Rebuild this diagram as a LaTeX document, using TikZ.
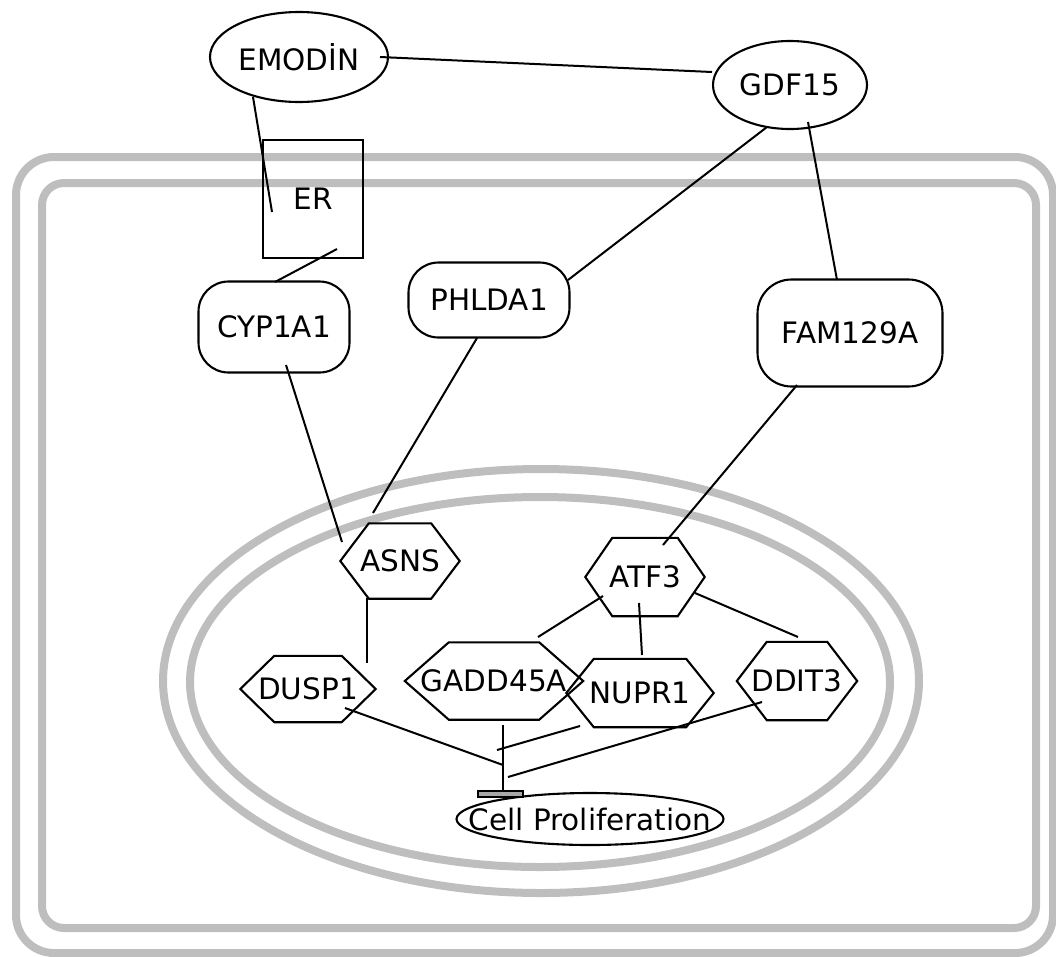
\documentclass[tikz,border=0pt]{standalone}
\usepackage{fontspec}
\setmainfont{DejaVu Sans}
\usetikzlibrary{calc,shapes.geometric}
\definecolor{memgray}{HTML}{BEBEBE}
\definecolor{bargray}{HTML}{A8A8A8}
\tikzset{
  membrane/.style={draw=memgray, line width=8pt},
  txt/.style={font=\fontsize{29.5}{34}\selectfont, inner sep=0pt},
  ovalnode/.style={txt, ellipse, draw, line width=2.1pt},
  roundbox/.style={txt, rectangle, draw, line width=2.1pt, rounded corners=30pt},
  squarebox/.style={txt, rectangle, draw, line width=1.8pt},
  hexlabel/.style={txt, rectangle},
  hexline/.style={draw, line width=2.1pt, line join=miter},
  link/.style={draw, line width=2pt},
  barnode/.style={rectangle, draw, fill=bargray, line width=1.3pt, inner sep=0pt, minimum width=45pt, minimum height=6pt},
}
\newcommand{\hexnode}[7]{%
  \node[hexlabel, minimum width=#4pt, minimum height=#5pt] (#1) at (#2,#3) {#7};
  \draw[hexline] ([xshift=#6pt]#1.north west) -- ([xshift=-#6pt]#1.north east) -- (#1.east)
    -- ([xshift=-#6pt]#1.south east) -- ([xshift=#6pt]#1.south west) -- (#1.west) -- cycle;}
\begin{document}
\begin{tikzpicture}[x=1pt, y=-1pt]
\useasboundingbox (0,0) rectangle (1056,956);
% membranes
\draw[membrane, rounded corners=38pt] (16,157) rectangle (1053,953);
\draw[membrane, rounded corners=22pt] (42,183) rectangle (1036,928);
\draw[membrane] (541,681) ellipse [x radius=378, y radius=212];
\draw[membrane] (540,682) ellipse [x radius=350, y radius=185];
% nodes
\node[ovalnode, minimum width=178pt, minimum height=90pt] (emodin) at (299,57) {EMODİN};
\node[ovalnode, minimum width=154pt, minimum height=88pt] (gdf) at (790,85) {GDF15};
\node[squarebox, minimum width=100pt, minimum height=118pt] (er) at (313,199) {ER};
\node[roundbox, minimum width=151pt, minimum height=91pt] (cyp) at (274,327) {CYP1A1};
\node[roundbox, minimum width=161pt, minimum height=75pt] (phl) at (489,300) {PHLDA1};
\node[roundbox, rounded corners=34pt, minimum width=185pt, minimum height=107pt] (fam) at (850,333) {FAM129A};
\hexnode{asns}{400}{561}{119}{75}{28.5}{ASNS}
\hexnode{atf}{645}{577}{119}{78}{27}{ATF3}
\hexnode{dusp}{308}{689}{135}{66}{34}{DUSP1}
\hexnode{gadd}{494}{681}{178}{77}{44}{GADD45A}
\hexnode{nupr}{640}{693}{147}{68}{27.5}{NUPR1}
\hexnode{ddit}{797}{681}{120}{78}{30}{DDIT3}
\node[ovalnode, minimum width=267pt, minimum height=52pt,
      label={[txt]center:Cell Proliferation}] (cell) at (590,819) {};
\node[barnode] (bar) at (500.5,794) {};
% connectors
\draw[link] ($(emodin)+(81,0)$) -- ($(gdf)+(-78,-13)$);
\draw[link] ($(emodin)+(-46,40)$) -- ($(er)+(-41,13)$);
\draw[link] ($(er)+(24,50)$) -- ($(cyp)+(1,-45)$);
\draw[link] ($(gdf)+(-23,42)$) -- ($(phl)+(79,-20)$);
\draw[link] ($(gdf)+(18,37)$) -- ($(fam)+(-13,-53)$);
\draw[link] ($(cyp)+(12,38)$) -- ($(asns)+(-58,-19)$);
\draw[link] ($(phl)+(-12,38)$) -- ($(asns)+(-27,-48)$);
\draw[link] ($(fam)+(-53,52)$) -- ($(atf)+(18,-32)$);
\draw[link] ($(asns)+(-33,37)$) -- ($(dusp)+(59,-26)$);
\draw[link] ($(atf)+(-42,19)$) -- ($(gadd)+(44,-44)$);
\draw[link] ($(atf)+(-6,26)$) -- ($(nupr)+(2,-38)$);
\draw[link] ($(atf)+(50,16)$) -- ($(ddit)+(1,-44)$);
\draw[link] ($(dusp)+(37,19)$) -- ($(bar)+(2.5,-29)$);
\draw[link] ($(nupr)+(-60,33)$) -- ($(bar)+(-3.5,-44)$);
\draw[link] ($(ddit)+(-35,21)$) -- ($(bar)+(7.5,-17)$);
\draw[link] ($(gadd)+(9,44)$) -- ($(bar)+(2.5,-3)$);
\end{tikzpicture}
\end{document}
